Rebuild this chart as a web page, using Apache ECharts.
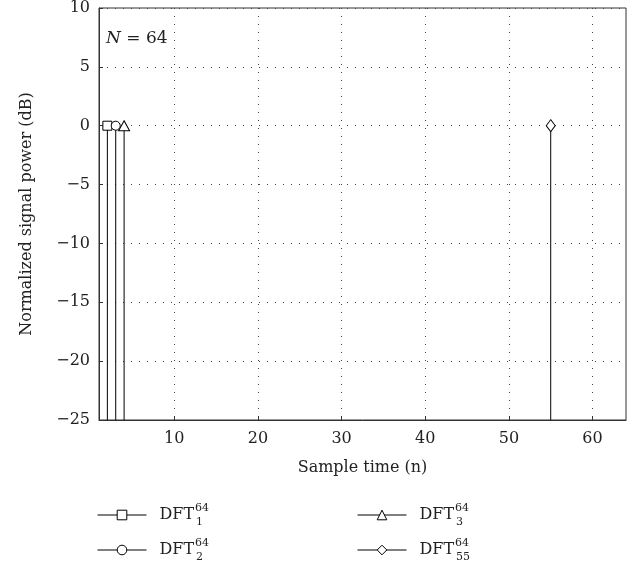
<!DOCTYPE html>
<html>
<head>
<meta charset="utf-8">
<script src="https://cdn.jsdelivr.net/npm/echarts@6/dist/echarts.min.js"></script>
<style>html,body{margin:0;padding:0;background:#fff;}#c{width:636px;height:567px;}</style>
</head>
<body>
<div id="c"></div>
<script>
// ---- data ----
const seriesNames = ['DFT1', 'DFT2', 'DFT3', 'DFT55'];
const subscripts = ['1', '2', '3', '55'];
const superscript = '64';
const stemX = [2, 3, 4, 55];
const stemY = [0, 0, 0, 0];
const markers = ['rect', 'circle', 'triangle', 'diamond'];
const markerSizes = [[9, 9], [9, 9], [11, 10], [9, 12]];
const xMin = 1, xMax = 64;
const yMin = -25, yMax = 10, yStep = 5;
const xTickValues = [10, 20, 30, 40, 50, 60];

const FONT = '"DejaVu Serif", "Liberation Serif", serif';

const series = seriesNames.map((name, i) => ({
  name: name,
  type: 'line',
  symbol: markers[i],
  symbolSize: markerSizes[i],
  showAllSymbol: true,
  clip: false,
  lineStyle: { color: '#000', width: 1 },
  itemStyle: { color: '#fff', borderColor: '#000', borderWidth: 1 },
  emphasis: { disabled: true },
  animation: false,
  z: 3,
  data: [
    { value: [stemX[i], yMin], symbol: 'none' },
    { value: [stemX[i], stemY[i]] }
  ]
}));

const richLegend = {
  n: { fontFamily: FONT, fontSize: 16, color: '#222', lineHeight: 26, verticalAlign: 'middle' },
  p: { fontFamily: FONT, fontSize: 11, color: '#222', lineHeight: 12, verticalAlign: 'top', width: 0, padding: [1, 0, 0, 1] },
  b: { fontFamily: FONT, fontSize: 11, color: '#222', lineHeight: 12, verticalAlign: 'bottom', padding: [0, 0, 0, 1] }
};
function legendFmt(name) {
  const i = seriesNames.indexOf(name);
  return '{n|DFT}{p|' + superscript + '}{b|' + subscripts[i] + '}';
}
const legendCommon = {
  orient: 'vertical',
  itemWidth: 49,
  itemHeight: 12,
  itemGap: 9,
  top: 502,
  padding: 0,
  formatter: legendFmt,
  lineStyle: { width: 1, color: '#000' },
  itemStyle: { borderWidth: 1, borderColor: '#000', color: '#fff' },
  textStyle: { rich: richLegend, padding: [0, 0, 0, 8] },
  selectedMode: false
};

const option = {
  backgroundColor: '#fff',
  animation: false,
  title: {
    text: '{i|N} = 64',
    left: 106, top: 30, padding: 0,
    textStyle: {
      rich: {
        i: { fontFamily: FONT, fontStyle: 'italic', fontSize: 17, color: '#222' }
      },
      fontFamily: FONT, fontSize: 17, color: '#222', fontWeight: 'normal'
    }
  },
  grid: {
    left: 99, right: 10, top: 8, bottom: 147,
    show: true, borderColor: '#333', borderWidth: 1, backgroundColor: 'transparent'
  },
  legend: [
    Object.assign({}, legendCommon, { left: 97, data: [seriesNames[0], seriesNames[1]] }),
    Object.assign({}, legendCommon, { left: 357, data: [seriesNames[2], seriesNames[3]] })
  ],
  xAxis: {
    type: 'value',
    min: xMin, max: xMax,
    name: 'Sample time (n)',
    nameLocation: 'middle',
    nameGap: 40,
    nameTextStyle: { fontFamily: FONT, fontSize: 16, color: '#222' },
    axisLine: { show: true, onZero: false, lineStyle: { color: '#333', width: 1 } },
    axisTick: { show: true, inside: true, length: 4, customValues: xTickValues, lineStyle: { color: '#333' } },
    axisLabel: { customValues: xTickValues, fontFamily: FONT, fontSize: 16, color: '#222', margin: 11 },
    splitLine: { show: true, lineStyle: { type: [1, 7], color: '#444', width: 1 } }
  },
  yAxis: {
    type: 'value',
    min: yMin, max: yMax, interval: yStep,
    name: 'Normalized signal power (dB)',
    nameLocation: 'middle',
    nameGap: 64,
    nameTextStyle: { fontFamily: FONT, fontSize: 16, color: '#222' },
    axisLine: { show: true, onZero: false, lineStyle: { color: '#333', width: 1 } },
    axisTick: { show: true, inside: true, length: 4, lineStyle: { color: '#333' } },
    axisLabel: {
      fontFamily: FONT, fontSize: 16, color: '#222', margin: 9,
      formatter: v => (v < 0 ? '\u2212' + Math.abs(v) : String(v))
    },
    splitLine: { show: true, lineStyle: { type: [1, 7], color: '#444', width: 1 } }
  },
  series: series
};

const chart = echarts.init(document.getElementById('c'), null, { renderer: 'canvas' });
chart.setOption(option);
</script>
</body>
</html>
